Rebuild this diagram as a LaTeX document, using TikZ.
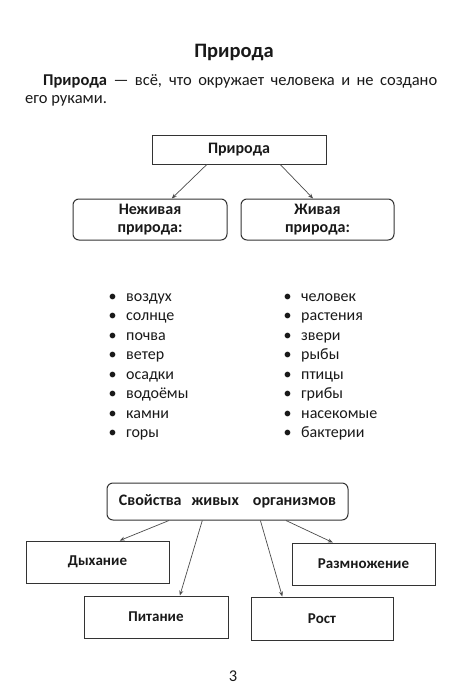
\documentclass[tikz,border=0pt]{standalone}
\usepackage{fontspec}
\setmainfont{Carlito}
\usetikzlibrary{arrows.meta,positioning}

\newcommand{\itemdot}{\makebox[17.5pt][l]{•}}

\begin{document}
\begin{tikzpicture}[
  x=1pt, y=-1pt,
  font=\fontsize{16.5}{18}\selectfont,
  text=black!90,
  heading/.style={font=\fontsize{20.5}{23}\selectfont\bfseries, inner sep=0pt},
  textline/.style={inner sep=0pt, anchor=base west},
  square/.style={
    draw=black!80,
    line width=1pt,
    font=\fontsize{16}{18}\selectfont\bfseries,
    align=center,
    inner sep=2pt
  },
  rounded/.style={
    square,
    rounded corners=6pt
  },
  property/.style={
    square,
    font=\fontsize{15}{18}\selectfont\bfseries
  },
  itemlist/.style={
    font=\fontsize{16}{19.45}\selectfont,
    align=left,
    inner sep=0pt,
    anchor=base west
  },
  flow/.style={-{Stealth[length=5pt,width=4pt]}, draw=black!70, line width=.7pt}
]
\useasboundingbox[fill=white] (0,0) rectangle (473,699);

\node[heading, anchor=base] (title) at (234,57) {Природа};

\node[textline] (def-first) at (43,85.5)
  {\makebox[394pt][s]{\textbf{Природа} — всё, что окружает человека и не создано}};
\node[textline] (def-second) at (25,103.5) {его руками.};

% nature: living and non-living
\node[square, minimum width=174pt, minimum height=29pt] (nature) at (239,149.5) {Природа};
\node[rounded, minimum width=154pt, minimum height=41pt] (nonliving) at (150,219.5)
  {Неживая\\природа:};
\node[rounded, minimum width=153pt, minimum height=41pt, right=13pt of nonliving] (living)
  {Живая\\природа:};

\draw[flow] (nature.205) -- (nonliving.44);
\draw[flow] (nature.340) -- (living.102);

% base anchor of a list = baseline of its last line
\node[itemlist] (nonliving-list) at (108.5,437.5)
  {\itemdot воздух\\
   \itemdot солнце\\
   \itemdot почва\\
   \itemdot ветер\\
   \itemdot осадки\\
   \itemdot водоёмы\\
   \itemdot камни\\
   \itemdot горы};
\node[itemlist] (living-list) at (283.5,437.5)
  {\itemdot человек\\
   \itemdot растения\\
   \itemdot звери\\
   \itemdot рыбы\\
   \itemdot птицы\\
   \itemdot грибы\\
   \itemdot насекомые\\
   \itemdot бактерии};

% properties of living organisms
\node[rounded, minimum width=241pt, minimum height=37pt] (props) at (227.5,501.5)
  {Свойства\hspace{10pt}живых\hspace{14pt}организмов};
\node[property, minimum width=143pt, minimum height=42pt] (breathing) at (97.5,562) {Дыхание};
\node[property, minimum width=144pt, minimum height=42pt] (feeding) at (156,617) {Питание};
\node[property, minimum width=142pt, minimum height=43pt] (growth) at (322,618.5) {Рост};
\node[property, minimum width=143pt, minimum height=42pt] (breeding) at (363.5,564) {Размножение};

\draw[flow] (props.198) -- (breathing.44);
\draw[flow] (props.217) -- (feeding.42);
\draw[flow] (props.330) -- (growth.151);
\draw[flow] (props.342) -- (breeding.145);

\node[inner sep=0pt, anchor=base] (page-number) at (233,681) {3};
\end{tikzpicture}
\end{document}
